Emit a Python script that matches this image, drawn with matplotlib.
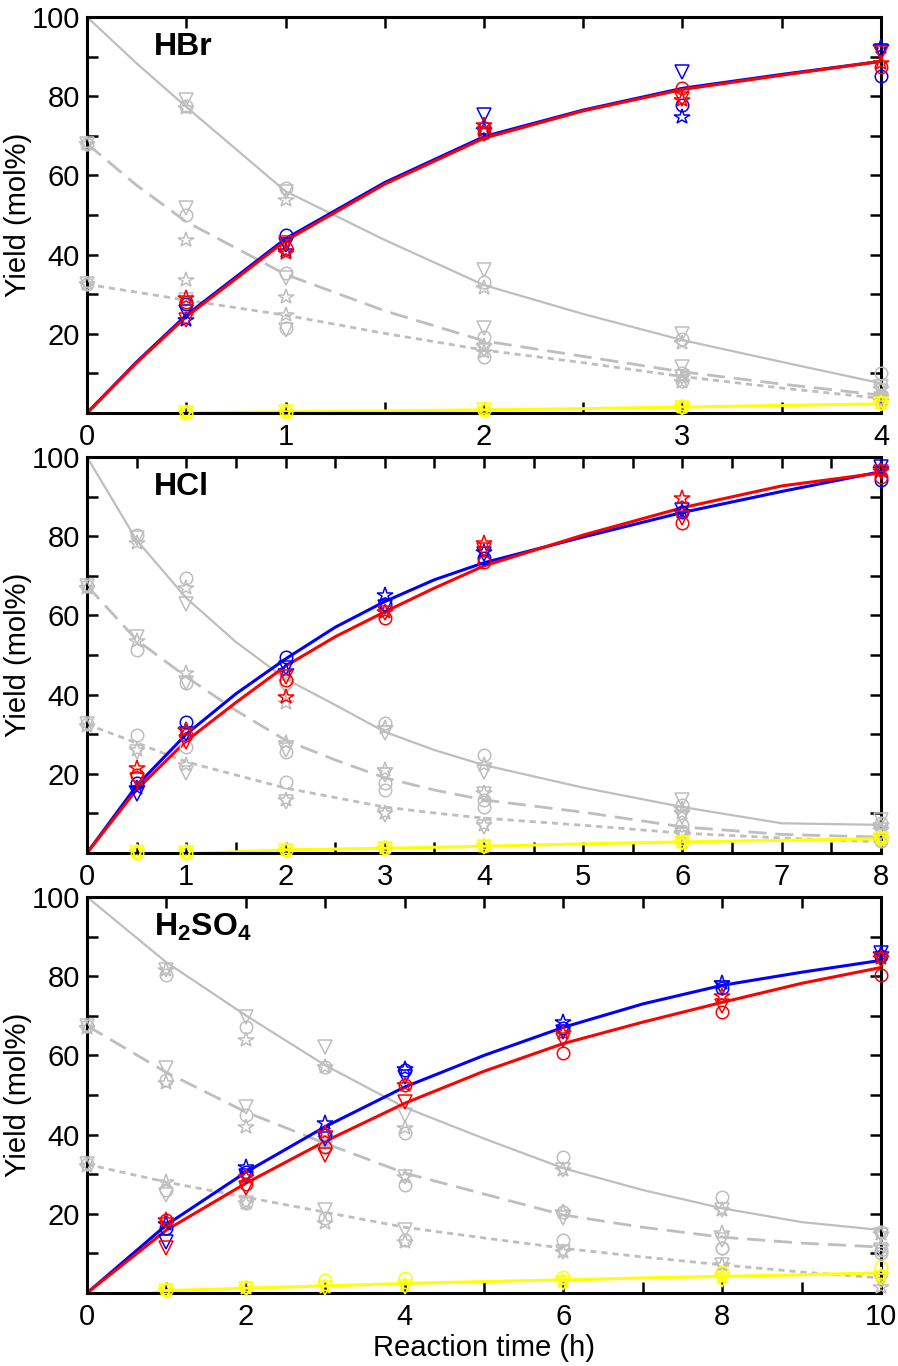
import numpy as np
import matplotlib
matplotlib.use("Agg")
import matplotlib.pyplot as plt
from matplotlib.ticker import FixedLocator, MultipleLocator

nan = np.nan

# marker order inside each series list: circle, down-triangle, star
markers = ['o', 'v', '*']

# ---------------- HBr ----------------
hbr_t = [0, 0.5, 1, 2, 3, 4]
hbr_blue = [[nan, 27.5, 45.0, 72.0, 77.7, 85.0],
            [nan, 25.5, 42.5, 75.2, 86.0, 91.5],
            [nan, 23.5, 41.0, 71.5, 74.8, 92.4]]
hbr_red = [[nan, 28.0, 41.6, 70.6, 82.0, 87.4],
           [nan, 23.5, 42.9, 70.5, 79.4, 91.0],
           [nan, 29.0, 40.3, 72.7, 79.0, 88.3]]
hbr_gray1 = [[nan, 77.5, 56.7, 33.0, 18.8, 10.0],
             [nan, 79.0, 55.8, 36.0, 20.0, 6.6],
             [nan, 77.0, 53.8, 31.5, 17.6, 6.0]]
hbr_gray2 = [[68.0, 50.0, 35.3, 19.3, 10.0, 4.5],
             [68.0, 51.7, 34.0, 21.4, 11.7, 5.5],
             [68.0, 43.6, 29.3, 17.0, 9.0, 4.0]]
hbr_gray3 = [[32.5, 28.0, 21.4, 14.2, 8.0, 3.0],
             [32.5, 28.5, 21.0, 16.0, 9.0, 3.5],
             [32.5, 33.5, 24.7, 15.5, 7.9, 3.0]]
hbr_yellow = [[nan, 0.0, 0.3, 0.8, 1.5, 2.5],
              [nan, 0.0, 0.2, 0.7, 1.3, 2.2],
              [nan, 0.0, 0.3, 0.8, 1.5, 2.6]]

hbr_fit_t = [0, 0.25, 0.5, 1, 1.5, 2, 2.5, 3, 3.5, 4]
hbr_fit_blue = [0, 12.9, 24.7, 44.0, 58.2, 69.8, 76.5, 82.0, 85.5, 88.8]
hbr_fit_red = [0, 12.7, 24.3, 43.5, 57.8, 69.4, 76.3, 81.7, 85.3, 88.8]
hbr_fit_gray1 = [100, 88.3, 77.3, 56.0, 43.7, 32.3, 25.0, 18.4, 12.9, 7.5]
hbr_fit_gray2 = [68.0, 57.5, 48.3, 35.0, 25.8, 18.2, 14.3, 10.4, 7.3, 4.5]
hbr_fit_gray3 = [32.5, 30.5, 28.5, 24.7, 20.1, 15.9, 12.7, 9.2, 6.3, 3.7]
hbr_fit_yellow = [nan, nan, 0.0, 0.3, 0.5, 0.8, 1.1, 1.5, 1.9, 2.3]

# ---------------- HCl ----------------
hcl_t = [0, 0.5, 1, 2, 3, 4, 6, 8]
hcl_blue = [[nan, 17.7, 33.0, 49.5, 63.0, 74.5, 86.0, 94.2],
            [nan, 15.0, 30.0, 46.7, 62.0, 75.5, 86.5, 97.5],
            [nan, 16.5, 31.0, 46.0, 65.2, 76.0, 86.2, 97.0]]
hcl_red = [[nan, 19.7, 29.8, 43.7, 59.3, 73.5, 83.3, 95.0],
           [nan, 18.4, 28.0, 44.5, 60.5, 76.5, 84.6, 96.2],
           [nan, 21.5, 31.0, 39.4, 60.9, 78.3, 89.6, 96.5]]
hcl_gray1 = [[nan, 80.3, 69.4, 43.0, 32.8, 24.7, 12.0, 7.5],
             [nan, 79.5, 63.0, 42.0, 30.3, 20.5, 13.4, 8.3],
             [nan, 78.3, 66.9, 38.0, 31.5, 22.2, 11.0, 7.0]]
hcl_gray2 = [[67.5, 51.3, 42.9, 25.5, 17.7, 13.4, 7.1, 4.0],
             [67.5, 54.5, 42.9, 26.0, 19.7, 15.0, 9.0, 5.0],
             [67.0, 53.5, 45.4, 27.8, 21.0, 15.2, 10.0, 5.8]]
hcl_gray3 = [[32.5, 29.8, 26.8, 17.9, 15.9, 11.6, 5.5, 3.0],
             [32.5, 25.5, 20.2, 12.9, 9.6, 6.6, 4.5, 3.0],
             [32.0, 26.0, 22.2, 13.4, 10.1, 7.0, 5.0, 3.5]]
hcl_yellow = [[nan, 0.0, 0.0, 0.8, 1.2, 1.7, 2.8, 3.8],
              [nan, 0.0, 0.0, 0.6, 1.0, 1.5, 2.5, 3.5],
              [nan, 0.2, 0.3, 0.8, 1.2, 1.8, 2.8, 3.8]]

hcl_fit_t = [0, 0.5, 1, 1.5, 2, 2.5, 3, 3.5, 4, 5, 6, 7, 8]
hcl_fit_blue = [0, 17.0, 30.0, 40.2, 49.0, 57.0, 63.5, 69.0, 73.3, 79.8, 86.0, 91.3, 96.3]
hcl_fit_red = [0, 16.0, 28.3, 38.0, 47.2, 54.6, 60.9, 66.9, 72.5, 80.3, 87.2, 92.7, 96.0]
hcl_fit_gray1 = [100, 79.0, 64.4, 53.3, 44.0, 37.4, 30.6, 26.0, 22.2, 16.5, 11.6, 7.5, 7.1]
hcl_fit_gray2 = [67.5, 53.8, 44.5, 36.0, 28.5, 23.5, 19.0, 15.9, 13.4, 10.3, 6.6, 4.7, 4.0]
hcl_fit_gray3 = [32.5, 27.8, 23.0, 19.7, 16.4, 14.0, 11.6, 10.1, 8.8, 7.0, 5.0, 3.8, 2.8]
hcl_fit_yellow = [nan, nan, -0.2, 0.3, 0.8, 1.0, 1.2, 1.45, 1.7, 2.3, 2.8, 3.2, 3.6]

# ---------------- H2SO4 ----------------
h2so4_t = [0, 1, 2, 3, 4, 6, 8, 10]
h2so4_blue = [[nan, 16.4, 30.5, 40.0, 56.2, 67.0, 77.0, 85.0],
              [nan, 12.9, 29.5, 39.0, 54.5, 66.0, 77.0, 85.8],
              [nan, 17.5, 31.8, 42.9, 56.5, 68.4, 78.4, 85.5]]
h2so4_red = [[nan, 18.4, 27.5, 36.9, 52.5, 60.5, 70.9, 80.2],
             [nan, 11.3, 26.5, 34.8, 48.2, 63.8, 72.6, 84.0],
             [nan, 18.4, 29.3, 40.4, 52.5, 65.6, 75.1, 84.5]]
h2so4_gray1 = [[nan, 80.2, 67.1, 57.0, 40.4, 34.3, 24.3, 15.4],
               [nan, 81.5, 69.6, 62.0, 44.9, 31.0, 21.0, 14.6],
               [nan, 81.5, 63.8, 57.0, 41.6, 31.0, 21.0, 15.0]]
h2so4_gray2 = [[67.5, 53.7, 44.9, 37.0, 27.2, 20.4, 11.3, 10.8],
               [67.5, 56.7, 46.9, 38.0, 29.3, 18.9, 13.4, 10.8],
               [67.0, 53.0, 41.9, 38.0, 29.3, 20.4, 15.1, 11.5]]
h2so4_gray3 = [[32.5, 26.0, 22.7, 18.9, 13.4, 13.4, 11.3, 10.0],
               [32.5, 24.7, 22.7, 20.9, 15.9, 10.4, 7.1, 3.0],
               [32.0, 28.0, 22.7, 17.7, 12.9, 10.4, 7.1, 1.6]]
h2so4_yellow = [[nan, 0.8, 1.5, 3.3, 3.8, 4.1, 5.3, 6.6],
                [nan, 0.5, 1.0, 1.3, 1.6, 2.5, 3.3, 3.8],
                [nan, 0.8, 1.2, 1.5, 2.0, 3.0, 4.0, 4.5]]

h2so4_fit_t = [0, 1, 2, 3, 4, 5, 6, 7, 8, 9, 10]
h2so4_fit_blue = [0, 17.2, 30.5, 42.0, 52.0, 60.0, 67.1, 73.0, 77.7, 81.0, 84.0]
h2so4_fit_red = [0, 15.9, 27.7, 38.3, 47.9, 56.0, 63.0, 68.4, 73.4, 78.2, 82.2]
h2so4_fit_gray1 = [100, 83.5, 70.1, 57.5, 46.9, 39.0, 31.5, 26.0, 21.4, 17.9, 15.9]
h2so4_fit_gray2 = [67.5, 55.7, 45.7, 37.8, 30.3, 25.0, 19.7, 16.6, 14.1, 12.6, 11.6]
h2so4_fit_gray3 = [32.5, 28.0, 24.2, 20.4, 16.6, 13.9, 11.3, 9.1, 7.1, 5.3, 3.8]
h2so4_fit_yellow = [-3.0, 0.6, 1.2, 1.8, 2.4, 2.9, 3.3, 3.8, 4.2, 4.6, 5.1]

GRAY = '#bebebe'
BLUE = '#0000ff'
RED = '#ff0000'
YELLOW = '#ffff00'

plt.rcParams['font.family'] = ['Liberation Sans', 'DejaVu Sans']
plt.rcParams['mathtext.fontset'] = 'custom'
plt.rcParams['mathtext.rm'] = 'Liberation Sans'
plt.rcParams['mathtext.bf'] = 'Liberation Sans:bold'

W, H = 898, 1366
fig = plt.figure(figsize=(W / 100, H / 100), dpi=100)

# axes boxes in pixels: (top, bottom)
boxes = [(17, 413), (457, 853), (897, 1293)]
left_px, right_px = 87, 881


def draw_panel(ax, t, series, fit_t, fits, title, xmax, xmajor, xminor):
    # fitted curves
    for color, vals, style, lw in fits:
        line, = ax.plot(fit_t, vals, color=color, lw=lw, zorder=2,
                        solid_capstyle='butt')
        if style == 'long':
            line.set_dashes((6.5, 3.2))
        elif style == 'short':
            line.set_dashes((2.2, 1.8))
    # measured points, open markers
    for color, sets in series:
        for m, vals in zip(markers, sets):
            ms = {'o': 9, 'v': 9.5, '*': 11.5}[m]
            ax.plot(t, vals, linestyle='none', marker=m, ms=ms,
                    mfc='none', mec=color, mew=1.1, zorder=3, clip_on=False)

    ax.set_xlim(0, xmax)
    ax.set_ylim(0, 100)
    ax.xaxis.set_major_locator(MultipleLocator(xmajor))
    ax.xaxis.set_minor_locator(MultipleLocator(xminor))
    ax.yaxis.set_major_locator(FixedLocator([20, 40, 60, 80, 100]))
    ax.yaxis.set_minor_locator(FixedLocator([10, 30, 50, 70, 90]))
    ax.tick_params(which='both', direction='in', top=True, right=True,
                   length=8, width=1.8, labelsize=21)
    ax.tick_params(axis='x', pad=7)
    ax.tick_params(axis='y', pad=5)
    for sp in ax.spines.values():
        sp.set_linewidth(2.2)
    ax.text(0.084, 0.903, title, transform=ax.transAxes, fontsize=23,
            fontweight='bold', ha='left', va='baseline')


panels = [
    (hbr_t, [(GRAY, hbr_gray1), (GRAY, hbr_gray2), (GRAY, hbr_gray3),
             (YELLOW, hbr_yellow), (BLUE, hbr_blue), (RED, hbr_red)],
     hbr_fit_t, [(GRAY, hbr_fit_gray1, 'solid', 1.6), (GRAY, hbr_fit_gray2, 'long', 2.0),
                 (GRAY, hbr_fit_gray3, 'short', 2.0), (YELLOW, hbr_fit_yellow, 'solid', 2.2),
                 (BLUE, hbr_fit_blue, 'solid', 2.2), (RED, hbr_fit_red, 'solid', 2.2)],
     'HBr', 4, 1, 0.5),
    (hcl_t, [(GRAY, hcl_gray1), (GRAY, hcl_gray2), (GRAY, hcl_gray3),
             (YELLOW, hcl_yellow), (BLUE, hcl_blue), (RED, hcl_red)],
     hcl_fit_t, [(GRAY, hcl_fit_gray1, 'solid', 1.6), (GRAY, hcl_fit_gray2, 'long', 2.0),
                 (GRAY, hcl_fit_gray3, 'short', 2.0), (YELLOW, hcl_fit_yellow, 'solid', 2.2),
                 (BLUE, hcl_fit_blue, 'solid', 2.2), (RED, hcl_fit_red, 'solid', 2.2)],
     'HCl', 8, 1, 0.5),
    (h2so4_t, [(GRAY, h2so4_gray1), (GRAY, h2so4_gray2), (GRAY, h2so4_gray3),
               (YELLOW, h2so4_yellow), (BLUE, h2so4_blue), (RED, h2so4_red)],
     h2so4_fit_t, [(GRAY, h2so4_fit_gray1, 'solid', 1.6), (GRAY, h2so4_fit_gray2, 'long', 2.0),
                   (GRAY, h2so4_fit_gray3, 'short', 2.0), (YELLOW, h2so4_fit_yellow, 'solid', 2.2),
                   (BLUE, h2so4_fit_blue, 'solid', 2.2), (RED, h2so4_fit_red, 'solid', 2.2)],
     r'$\mathbf{H_2SO_4}$', 10, 2, 1),
]

for (top, bot), p in zip(boxes, panels):
    ax = fig.add_axes([left_px / W, 1 - bot / H, (right_px - left_px) / W, (bot - top) / H])
    draw_panel(ax, *p)
    fig.text(18 / W, 1 - (top + bot) / 2 / H, 'Yield (mol%)', rotation=90,
             ha='center', va='center', fontsize=21)

fig.text((left_px + right_px) / 2 / W, 1 - 1356 / H, 'Reaction time (h)',
         ha='center', va='baseline', fontsize=21)

fig.savefig('out.png', dpi=100)
